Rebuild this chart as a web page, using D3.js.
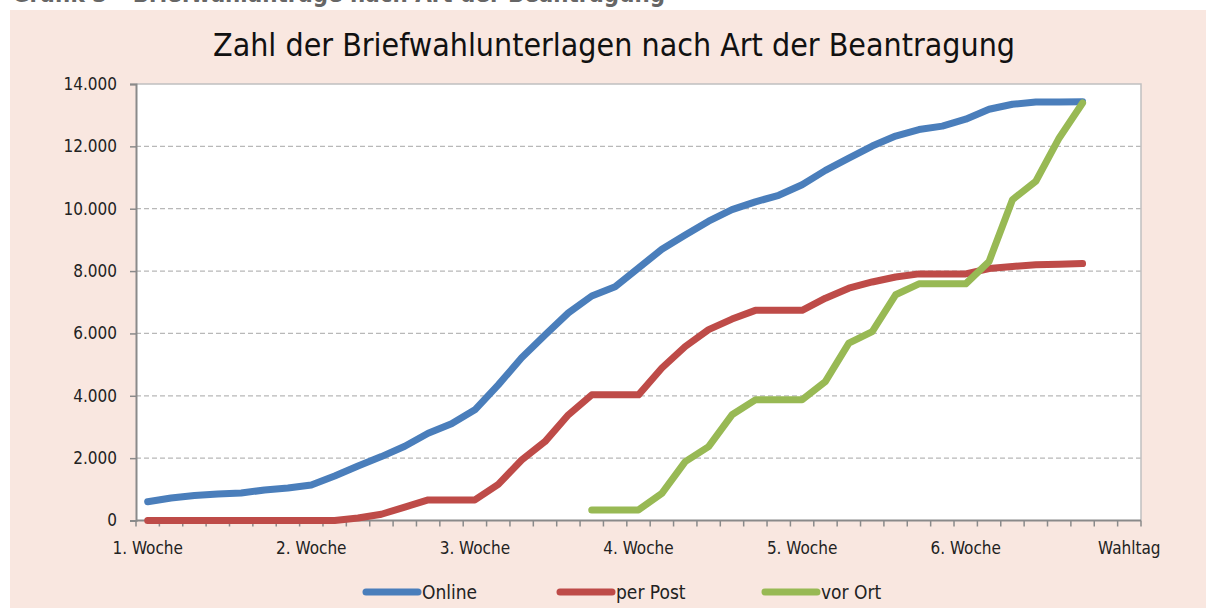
<!DOCTYPE html>
<html><head><meta charset="utf-8">
<script src="https://cdn.jsdelivr.net/npm/d3@7"></script>
<style>
body{margin:0;background:#fff;}
svg{display:block;}
text{font-family:"DejaVu Sans Condensed","DejaVu Sans","Liberation Sans Narrow",sans-serif;font-stretch:condensed;}
</style></head>
<body>
<svg id="c" width="1206" height="608"></svg>
<script>
const caption = "Grafik 3 – Briefwahlanträge nach Art der Beantragung";
const title = "Zahl der Briefwahlunterlagen nach Art der Beantragung";
const weekLabels = ["1. Woche","2. Woche","3. Woche","4. Woche","5. Woche","6. Woche","Wahltag"];
const yTicks = [0,2000,4000,6000,8000,10000,12000,14000];
const nCategories = 43;
const online = [600,720,800,850,880,980,1040,1140,1430,1750,2050,2380,2800,3100,3550,4350,5220,5950,6660,7200,7500,8100,8700,9160,9600,9970,10220,10430,10770,11230,11620,12010,12330,12540,12650,12870,13190,13350,13420,13420,13430];
const perPost = [0,0,0,0,0,0,0,0,0,80,200,430,660,660,660,1160,1940,2530,3390,4030,4030,4030,4890,5580,6120,6460,6740,6740,6740,7130,7450,7650,7810,7910,7910,7910,8080,8150,8200,8220,8240];
const vorOrt = [null,null,null,null,null,null,null,null,null,null,null,null,null,null,null,null,null,null,null,340,340,340,870,1890,2370,3390,3870,3870,3870,4460,5690,6060,7240,7590,7590,7590,8310,10290,10880,12270,13390];
const seriesNames = ["Online","per Post","vor Ort"];
const colors = ["#4a7ebb","#be4b48","#98b954"];

const svg = d3.select("#c");
svg.append("rect").attr("x",10).attr("y",10).attr("width",1196).attr("height",598).attr("fill","#f9e7e0");
svg.append("text").attr("x",12).attr("y",2).attr("font-size",24).attr("font-weight","bold").attr("fill","#666")
  .attr("textLength",653).attr("lengthAdjust","spacingAndGlyphs").text(caption);

const L=136,R=1141,T=84,B=520.5;
const x = d3.scaleBand().domain(d3.range(nCategories)).range([L,R]).padding(0);
const y = d3.scaleLinear().domain([0,14000]).range([B,T]);
const cx = i => x(i)+x.bandwidth()/2;

svg.append("rect").attr("x",L).attr("y",T).attr("width",R-L).attr("height",B-T).attr("fill","#fff");

svg.append("g").selectAll("line").data(yTicks.filter(d=>d>0 && d<14000)).join("line")
  .attr("x1",L).attr("x2",R).attr("y1",d=>y(d)).attr("y2",d=>y(d))
  .attr("stroke","#b8b8b8").attr("stroke-width",1.3).attr("stroke-dasharray","5,3");
svg.append("path").attr("d",`M${L},${T}H${R}V${B}`).attr("fill","none").attr("stroke","#c0c0c0").attr("stroke-width",1.5);

const fmt = d => d3.format(",")(d).replace(/,/g,".");
const yAxis = svg.append("g").attr("transform",`translate(${L},0)`)
  .call(d3.axisLeft(y).tickValues(yTicks).tickFormat(fmt).tickSize(6).tickPadding(13));
yAxis.select(".domain").attr("stroke","#8a8a8a").attr("stroke-width",2);
yAxis.selectAll(".tick line").attr("stroke","#8a8a8a").attr("stroke-width",1.5);
yAxis.selectAll("text").attr("font-size",17).attr("fill","#222").attr("font-family",null);

const xg = svg.append("g");
xg.append("line").attr("x1",L).attr("x2",R).attr("y1",B).attr("y2",B).attr("stroke","#8a8a8a").attr("stroke-width",2);
const bounds = d3.range(nCategories+1).map(i => i<nCategories ? x(i) : x(nCategories-1)+x.bandwidth());
xg.selectAll("line.t").data(bounds).join("line").attr("class","t")
  .attr("x1",d=>d).attr("x2",d=>d).attr("y1",B).attr("y2",B+6).attr("stroke","#8a8a8a").attr("stroke-width",1.5);
xg.selectAll("text").data(weekLabels).join("text")
  .attr("x",(d,i)=>cx(i*7)).attr("y",554).attr("text-anchor","middle").attr("font-size",17).attr("fill","#222").text(d=>d);

const line = d3.line().defined(d=>d!=null).x((d,i)=>cx(i)).y(d=>y(d)).curve(d3.curveLinear);
[online,perPost,vorOrt].forEach((s,k)=>{
  svg.append("path").attr("d",line(s)).attr("fill","none").attr("stroke",colors[k])
    .attr("stroke-width",7).attr("stroke-linejoin","round").attr("stroke-linecap","round");
});

const lx = [366,560,765];
seriesNames.forEach((n,k)=>{
  svg.append("line").attr("x1",lx[k]).attr("x2",lx[k]+52).attr("y1",592).attr("y2",592)
    .attr("stroke",colors[k]).attr("stroke-width",7).attr("stroke-linecap","round");
  svg.append("text").attr("x",lx[k]+56).attr("y",599).attr("font-size",19).attr("fill","#222").text(n);
});

svg.append("text").attr("x",614).attr("y",56).attr("text-anchor","middle").attr("font-size",32).attr("fill","#111")
  .attr("textLength",802).attr("lengthAdjust","spacingAndGlyphs").text(title);
</script>
</body></html>
